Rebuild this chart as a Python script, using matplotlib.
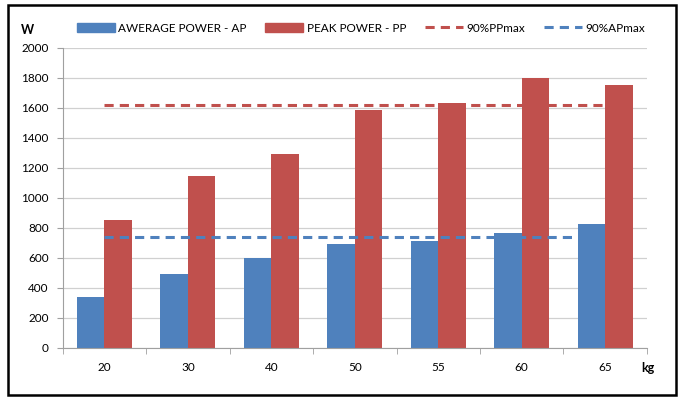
import numpy as np
import matplotlib.pyplot as plt
from matplotlib.patches import Patch, Rectangle
from matplotlib.lines import Line2D

plt.rcParams['font.family'] = ['Lato', 'DejaVu Sans']

categories = ["20", "30", "40", "50", "55", "60", "65"]
ap_values = [338, 493, 600, 695, 716, 764, 827]
pp_values = [851, 1149, 1291, 1587, 1636, 1798, 1751]
pp_90 = 1620
ap_90 = 742

blue = "#4F81BD"
red = "#C0504D"

fig = plt.figure(figsize=(6.81, 4.0), dpi=100)
ax = fig.add_axes([0.092, 0.13, 0.858, 0.75])

x = np.arange(len(categories))
w = 0.33
ax.bar(x - w / 2, ap_values, w, color=blue, zorder=2)
ax.bar(x + w / 2, pp_values, w, color=red, zorder=2)
ax.plot(x, [pp_90] * len(x), color=red, linestyle=(0, (3, 2)), linewidth=2.2, zorder=3)
ax.plot(x, [ap_90] * len(x), color=blue, linestyle=(0, (3, 2)), linewidth=2.2, zorder=3)

ax.set_xlim(-0.5, len(x) - 0.5)
ax.set_ylim(0, 2000)
ax.set_yticks(range(0, 2001, 200))
ax.yaxis.grid(True, color="#d0d0d0", linewidth=0.9, zorder=0)
ax.set_xticks(x)
ax.set_xticklabels(categories)
ax.set_xticks(np.arange(-0.5, len(x), 1), minor=True)
ax.tick_params(axis="x", which="major", length=0, pad=10, labelsize=8.5)
ax.tick_params(axis="x", which="minor", length=4, color="#a0a0a0")
ax.tick_params(axis="y", length=4, color="#a0a0a0", labelsize=8.5, pad=6)
for s in ["top", "right"]:
    ax.spines[s].set_visible(False)
for s in ["left", "bottom"]:
    ax.spines[s].set_color("#a0a0a0")

fig.text(0.041, 0.925, "W", fontsize=9, fontweight="bold", ha="center", va="center")
fig.text(0.952, 0.08, "kg", fontsize=9, fontweight="bold", ha="center", va="center")

handles = [
    Patch(color=blue, label="AWERAGE POWER - AP"),
    Patch(color=red, label="PEAK POWER - PP"),
    Line2D([], [], color=red, linestyle=(0, (3, 2)), linewidth=2.2, label="90%PPmax"),
    Line2D([], [], color=blue, linestyle=(0, (3, 2)), linewidth=2.2, label="90%APmax"),
]
fig.legend(handles=handles, loc="center", bbox_to_anchor=(0.53, 0.93), ncol=4,
           frameon=False, fontsize=8.5, handlelength=3.2, handleheight=0.7,
           handletextpad=0.3, columnspacing=1.6)

fig.patches.append(Rectangle((0.012, 0.012), 0.98, 0.976, transform=fig.transFigure,
                             fill=False, edgecolor="black", linewidth=1.8))

fig.savefig("out.png", dpi=100)
